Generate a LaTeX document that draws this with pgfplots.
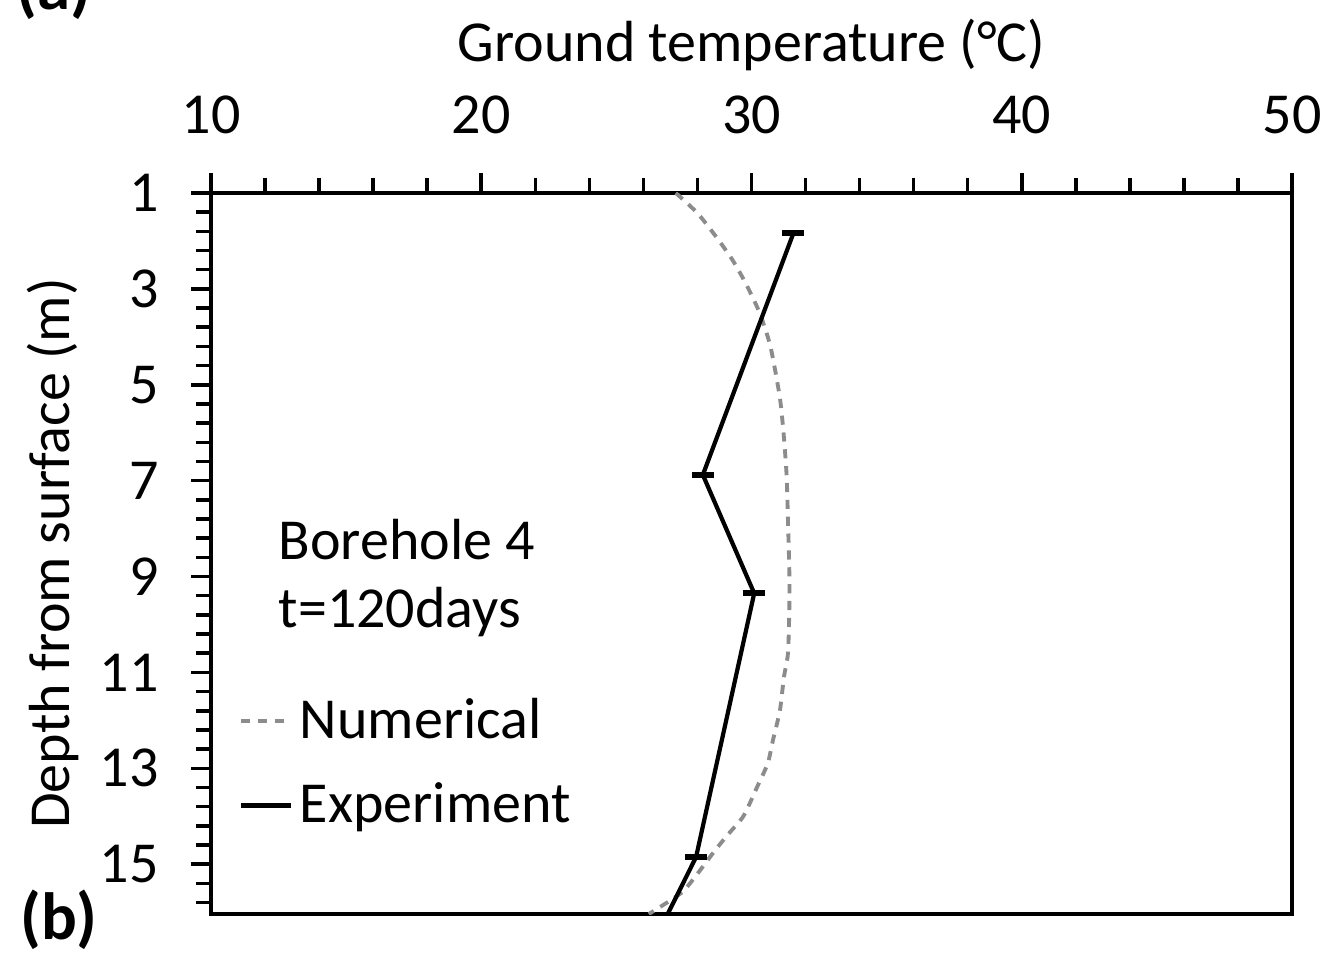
\documentclass[border=0pt]{standalone}
\usepackage{pgfplots}
\pgfplotsset{compat=1.18}
\usepackage{fontspec}
\setmainfont{Carlito}

% Experiment: measured ground temperature (°C) against depth (m)
\pgfplotstableread{
temp  depth
31.55 1.84
28.2  6.88
30.1  9.35
27.95 14.85
26.9  16.04
}\experiment

% Numerical profile
\pgfplotstableread{
temp  depth
27.2  1.0
28.0  1.42
28.7  1.92
29.3  2.4
29.8  2.9
30.3  3.5
30.7  4.2
31.05 5.27
31.2  6.1
31.3  6.9
31.35 7.84
31.4  8.9
31.4  9.66
31.35 10.6
31.2  11.1
31.05 11.8
30.8  12.4
30.6  12.9
30.2  13.4
29.7  14.0
29.1  14.4
28.6  14.75
28.0  15.2
27.4  15.6
26.2  16.04
}\numerical

\begin{document}
\begin{tikzpicture}
\useasboundingbox (-2.11,-0.48) rectangle (11.21,9.14);
\begin{axis}[
  at={(0,0)}, anchor=south west,
  scale only axis, width=10.81cm, height=7.21cm,
  font=\fontsize{16.5}{19}\selectfont,
  /pgf/number format/assume math mode=true,
  xmin=10, xmax=50, ymin=1, ymax=16.04,
  y dir=reverse,
  xtick={10,20,...,50},
  minor xtick={12,14,...,48},
  ytick={1,3,...,15},
  minor ytick={1.4,1.8,...,15.9},
  xtick pos=upper, xticklabel pos=upper,
  ytick pos=left,
  tick align=outside,
  major tick length=0.2cm,
  minor tick length=0.15cm,
  every tick/.style={black, line width=1pt},
  axis line style={line width=1pt},
  xticklabel shift=0.27cm,
  yticklabel shift=0.2cm,
  xlabel={Ground temperature (°C)},
  xlabel style={at={(axis description cs:0.5,1)}, anchor=center, yshift=1.48cm},
  ylabel={Depth from surface (m)},
  ylabel style={at={(axis description cs:0,0.5)}, anchor=center, yshift=1.58cm},
  legend style={draw=none, fill=none, at={(axis description cs:0.025,0.31)},
    anchor=north west, row sep=0.25cm, inner sep=0pt,
    nodes={inner xsep=0.07cm},
    font=\fontsize{16.5}{19}\selectfont},
  legend cell align=left,
  legend image code/.code={\draw[#1] (0cm,0cm) -- (0.5cm,0cm);},
]
\addplot[black!45, line width=1.1pt, dash pattern=on 2.6pt off 2.2pt, smooth, tension=0.4]
  table[x=temp, y=depth] {\numerical};
\addlegendentry{Numerical}
\addplot[black, line width=1.2pt, mark=-, mark size=3.1pt, mark indices={1,2,3,4},
  mark options={line width=1.7pt, solid}]
  table[x=temp, y=depth] {\experiment};
\addlegendentry{Experiment}
\node[anchor=north west, align=left, inner sep=0pt, font=\fontsize{16.5}{19.2}\selectfont]
  at (axis description cs:0.062,0.548) {Borehole 4\\t=120days};
\end{axis}
\node[anchor=base west, inner sep=0pt, font=\fontsize{19}{22}\selectfont\bfseries] at (-1.95,9.04) {(a)};
\node[anchor=center, inner sep=0pt, font=\fontsize{19}{22}\selectfont\bfseries] at (-1.52,-0.06) {(b)};
\end{tikzpicture}
\end{document}
